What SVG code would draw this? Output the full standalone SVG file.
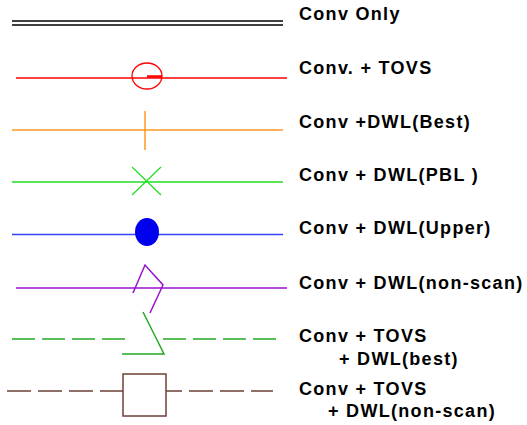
<svg xmlns="http://www.w3.org/2000/svg" width="527" height="425" viewBox="0 0 527 425">
<style>
.lbl{font-family:"Liberation Sans",Arial,sans-serif;font-weight:bold;font-size:18px;letter-spacing:1.3px;fill:#000}
.ln{fill:none;stroke-width:1.5}
</style>
<rect width="527" height="425" fill="#fff"/>
<g id="connectors">
<line class="ln" x1="12" y1="21" x2="283" y2="21" stroke="#000"/>
<line class="ln" x1="12" y1="25" x2="283" y2="25" stroke="#000"/>
<line class="ln" x1="16" y1="78" x2="287" y2="78" stroke="#ff0000"/>
<line class="ln" x1="12" y1="130" x2="283" y2="130" stroke="#ff9922"/>
<line class="ln" x1="12" y1="182" x2="283" y2="182" stroke="#22dd22"/>
<line class="ln" x1="12" y1="234.5" x2="283" y2="234.5" stroke="#3344ff"/>
<line class="ln" x1="16" y1="288" x2="287" y2="288" stroke="#9911cc"/>
<path class="ln" d="M12 339H126M163 339H278" stroke="#22aa22" stroke-dasharray="23 7"/>
<path class="ln" d="M7 391H123M166 391H182M189 391H273" stroke="#6e4038" stroke-dasharray="24 7"/>
</g>
<g id="n1"><text class="lbl" x="299" y="20">Conv Only</text></g>
<g id="n2">
<ellipse cx="147" cy="76" rx="15" ry="13" fill="none" stroke="#ff0000" stroke-width="1.3"/>
<line x1="147" y1="76.5" x2="162" y2="76.5" stroke="#ff0000" stroke-width="2.5"/>
<text class="lbl" x="299" y="74">Conv. + TOVS</text></g>
<g id="n3">
<line x1="145" y1="111" x2="145" y2="150" stroke="#ff9922" stroke-width="1.5"/>
<text class="lbl" x="299" y="128">Conv +DWL(Best)</text></g>
<g id="n4">
<path d="M132 167L161 195M161 167L132 195" stroke="#22dd22" stroke-width="1.2" fill="none"/>
<text class="lbl" x="299" y="181">Conv + DWL(PBL )</text></g>
<g id="n5">
<ellipse cx="147" cy="232" rx="12" ry="14" fill="#0000ee"/>
<text class="lbl" x="299" y="234">Conv + DWL(Upper)</text></g>
<g id="n6">
<path d="M133 293L145 265L163 285L150 313" stroke="#9911cc" stroke-width="1.5" fill="none"/>
<text class="lbl" x="299" y="289">Conv + DWL(non-scan)</text></g>
<g id="n7">
<path d="M143 312L164 354H122" stroke="#22aa22" stroke-width="1.5" fill="none"/>
<text class="lbl" x="299" y="342">Conv + TOVS</text>
<text class="lbl" x="339" y="365">+ DWL(best)</text></g>
<g id="n8">
<rect x="123" y="374" width="43" height="42" fill="#fff" stroke="#6e4038" stroke-width="1.5"/>
<text class="lbl" x="299" y="395">Conv + TOVS</text>
<text class="lbl" x="328" y="417">+ DWL(non-scan)</text></g>
</svg>
